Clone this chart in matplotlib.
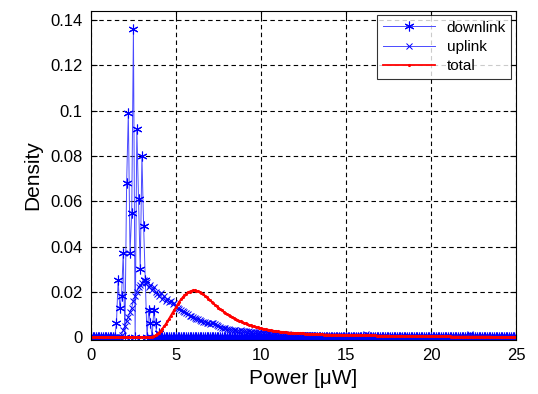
import numpy as np
import matplotlib
matplotlib.use("Agg")
import matplotlib.pyplot as plt

plt.rcParams['font.family'] = ['Liberation Sans', 'DejaVu Sans']

# power grid, 0.1 uW steps from 0 to 25
power = np.round(np.arange(0, 25.01, 0.1), 1)

downlink = [
    0, 0, 0, 0, 0, 0, 0, 0, 0, 0,
    0, 0, 0, 0, 0, 0.006, 0.025, 0.013, 0.018, 0.037,
    0, 0.068, 0.099, 0.037, 0.055, 0.136, 0, 0.092, 0.061, 0.030,
    0.080, 0.049, 0.025, 0, 0.012, 0.006, 0, 0.012, 0.006, 0,
    0.002, 0, 0, 0, 0, 0, 0, 0, 0, 0,
    0, 0, 0, 0, 0, 0, 0, 0, 0, 0,
    0, 0, 0, 0, 0, 0, 0, 0, 0, 0,
    0, 0, 0, 0, 0, 0, 0, 0, 0, 0,
    0, 0, 0, 0, 0, 0, 0, 0, 0, 0,
    0, 0, 0, 0, 0, 0, 0, 0, 0, 0,
    0, 0, 0, 0, 0, 0, 0, 0, 0, 0,
    0, 0, 0, 0, 0, 0, 0, 0, 0, 0,
    0, 0, 0, 0, 0, 0, 0, 0, 0, 0,
    0, 0, 0, 0, 0, 0, 0, 0, 0, 0,
    0, 0, 0, 0, 0, 0, 0, 0, 0, 0,
    0, 0, 0, 0, 0, 0, 0, 0, 0, 0,
    0, 0, 0, 0, 0, 0, 0, 0, 0, 0,
    0, 0, 0, 0, 0, 0, 0, 0, 0, 0,
    0, 0, 0, 0, 0, 0, 0, 0, 0, 0,
    0, 0, 0, 0, 0, 0, 0, 0, 0, 0,
    0, 0, 0, 0, 0, 0, 0, 0, 0, 0,
    0, 0, 0, 0, 0, 0, 0, 0, 0, 0,
    0, 0, 0, 0, 0, 0, 0, 0, 0, 0,
    0, 0, 0, 0, 0, 0, 0, 0, 0, 0,
    0, 0, 0, 0, 0, 0, 0, 0, 0, 0,
    0,
]

uplink = [
    0, 0, 0, 0, 0, 0, 0, 0, 0, 0,
    0, 0, 0, 0, 0, 0, 0, 0, 0.001, 0.003,
    0.005, 0.007, 0.009, 0.011, 0.013, 0.016, 0.018, 0.020, 0.022, 0.023,
    0.024, 0.025, 0.024, 0.0245, 0.022, 0.023, 0.021, 0.022, 0.020, 0.019,
    0.018, 0.0195, 0.017, 0.018, 0.016, 0.017, 0.0155, 0.016, 0.0145, 0.015,
    0.0135, 0.0130, 0.0125, 0.0120, 0.0115, 0.0112, 0.0105, 0.0100, 0.0095, 0.0092,
    0.0088, 0.0085, 0.0080, 0.0078, 0.0074, 0.0072, 0.0068, 0.0066, 0.0062, 0.0060,
    0.0058, 0.0060, 0.0063, 0.0058, 0.0052, 0.0048, 0.0045, 0.0042, 0.0040, 0.0038,
    0.0036, 0.0035, 0.0033, 0.0032, 0.0031, 0.0030, 0.0029, 0.0028, 0.0030, 0.0027,
    0.0026, 0.0025, 0.0024, 0.0025, 0.0023, 0.0022, 0.0024, 0.0021, 0.0020, 0.0021,
    0.0019, 0.0018, 0.0019, 0.0017, 0.0016, 0.0017, 0.0015, 0.0016, 0.0014, 0.0015,
    0.0013, 0.0014, 0.0012, 0.0013, 0.0012, 0.0011, 0.0012, 0.0010, 0.0011, 0.0010,
    0.0009, 0.0010, 0.0009, 0.0008, 0.0009, 0.0008, 0.0007, 0.0008, 0.0007, 0.0008,
    0.0006, 0.0007, 0.0006, 0.0007, 0.0005, 0.0006, 0.0005, 0.0006, 0.0005, 0.0004,
    0.0005, 0.0004, 0.0005, 0.0004, 0.0003, 0.0004, 0.0004, 0.0003, 0.0004, 0.0003,
    0.0004, 0.0003, 0.0003, 0.0004, 0.0002, 0.0003, 0.0004, 0.0003, 0.0002, 0.0003,
    0.0003, 0.0002, 0.0012, 0.0003, 0.0002, 0.0003, 0.0002, 0.0003, 0.0002, 0.0002,
    0.0003, 0.0002, 0.0002, 0.0003, 0.0002, 0.0001, 0.0002, 0.0003, 0.0002, 0.0001,
    0.0002, 0.0002, 0.0001, 0.0002, 0.0003, 0.0002, 0.0001, 0.0002, 0.0002, 0.0001,
    0.0002, 0.0001, 0.0002, 0.0002, 0.0001, 0.0002, 0.0001, 0.0001, 0.0002, 0.0001,
    0.0001, 0.0002, 0.0001, 0.0001, 0.0002, 0.0001, 0.0002, 0.0001, 0.0001, 0.0002,
    0.0001, 0.0001, 0.0002, 0.0001, 0.0001, 0.0001, 0.0002, 0.0001, 0.0001, 0.0001,
    0.0001, 0.0002, 0.0001, 0.0012, 0.0001, 0.0001, 0.0002, 0.0001, 0.0001, 0.0001,
    0.0001, 0.0001, 0.0001, 0.0002, 0.0001, 0.0001, 0.0001, 0.0001, 0.0001, 0.0002,
    0.0001, 0.0001, 0.0001, 0.0001, 0.0001, 0.0001, 0.0001, 0.0001, 0.0001, 0.0001,
    0.0001,
]

total = [
    0, 0, 0, 0, 0, 0, 0, 0, 0, 0,
    0, 0, 0, 0, 0, 0, 0, 0, 0, 0,
    0, 0, 0, 0, 0, 0, 0, 0, 0, 0,
    0, 0, 0, 0, 0, 0, 0.0002, 0.0004, 0.0008, 0.0013,
    0.0020, 0.0028, 0.0037, 0.0047, 0.0058, 0.0070, 0.0082, 0.0095, 0.0108, 0.0120,
    0.0132, 0.0145, 0.0157, 0.0167, 0.0176, 0.0184, 0.0191, 0.0197, 0.0201, 0.0204,
    0.0206, 0.0206, 0.0205, 0.0202, 0.0199, 0.0194, 0.0189, 0.0183, 0.0177, 0.0170,
    0.0163, 0.0156, 0.0149, 0.0142, 0.0136, 0.0130, 0.0124, 0.0118, 0.0112, 0.0107,
    0.0102, 0.0097, 0.0093, 0.0089, 0.0085, 0.0081, 0.0077, 0.0073, 0.0069, 0.0066,
    0.0063, 0.0060, 0.0057, 0.0054, 0.0052, 0.0050, 0.0047, 0.0045, 0.0043, 0.0041,
    0.0039, 0.0037, 0.0036, 0.0034, 0.0033, 0.0031, 0.0030, 0.0029, 0.0027, 0.0026,
    0.0025, 0.0024, 0.0023, 0.0023, 0.0022, 0.0021, 0.0020, 0.0020, 0.0019, 0.0019,
    0.0018, 0.0018, 0.0017, 0.0017, 0.0016, 0.0016, 0.0015, 0.0015, 0.0015, 0.0014,
    0.0014, 0.0013, 0.0013, 0.0013, 0.0012, 0.0012, 0.0012, 0.0011, 0.0011, 0.0011,
    0.0011, 0.0010, 0.0010, 0.0010, 0.0010, 0.0010, 0.0010, 0.0010, 0.0009, 0.0009,
    0.0009, 0.0009, 0.0009, 0.0009, 0.0008, 0.0008, 0.0008, 0.0008, 0.0008, 0.0008,
    0.0008, 0.0007, 0.0007, 0.0007, 0.0007, 0.0007, 0.0007, 0.0007, 0.0006, 0.0006,
    0.0006, 0.0006, 0.0006, 0.0006, 0.0006, 0.0006, 0.0005, 0.0005, 0.0005, 0.0005,
    0.0005, 0.0005, 0.0005, 0.0005, 0.0005, 0.0004, 0.0004, 0.0004, 0.0004, 0.0004,
    0.0004, 0.0004, 0.0004, 0.0004, 0.0004, 0.0004, 0.0003, 0.0003, 0.0003, 0.0003,
    0.0003, 0.0003, 0.0003, 0.0003, 0.0003, 0.0003, 0.0003, 0.0003, 0.0003, 0.0003,
    0.0003, 0.0003, 0.0002, 0.0002, 0.0002, 0.0002, 0.0002, 0.0002, 0.0002, 0.0002,
    0.0002, 0.0002, 0.0002, 0.0002, 0.0002, 0.0002, 0.0002, 0.0002, 0.0002, 0.0002,
    0.0002, 0.0002, 0.0002, 0.0002, 0.0002, 0.0002, 0.0001, 0.0001, 0.0001, 0.0001,
    0.0001, 0.0001, 0.0001, 0.0001, 0.0001, 0.0001, 0.0001, 0.0001, 0.0001, 0.0001,
    0.0001,
]

xticks = [0, 5, 10, 15, 20, 25]
yticks = [0, 0.02, 0.04, 0.06, 0.08, 0.1, 0.12, 0.14]
ytick_labels = ['0', '0.02', '0.04', '0.06', '0.08', '0.1', '0.12', '0.14']

fig = plt.figure(figsize=(5.38, 3.94), dpi=100)
ax = fig.add_axes([0.169, 0.137, 0.79, 0.836])

# matlab style asterisk: 6 arm star made of lines
asterisk = (6, 2, 0)
ax.plot(power, downlink, color='#4a4aff', lw=0.7, marker=asterisk, ms=7,
        mew=0.8, mec='#0000ff', label='downlink')
ax.plot(power, uplink, color='#4a4aff', lw=0.7, marker='x', ms=4.5,
        mew=0.7, mec='#0000ff', label='uplink')
ax.plot(power, total, color='#ff0000', lw=1.3, marker='.', ms=2.5,
        label='total')

ax.set_xlim(0, 25)
ax.set_ylim(-0.0013, 0.1442)
ax.set_xticks(xticks)
ax.set_yticks(yticks)
ax.set_yticklabels(ytick_labels)
ax.tick_params(labelsize=12, direction='in', length=4, top=True, right=True,
               pad=6)
ax.grid(True, color='black', linestyle=(0, (4, 3)), linewidth=0.8)
ax.set_axisbelow(True)

ax.set_xlabel('Power [\u03bcW]', fontsize=15, labelpad=4)
ax.set_ylabel('Density', fontsize=15, labelpad=6)

leg = ax.legend(loc='upper right', fontsize=11, frameon=True, fancybox=False,
                edgecolor='black', borderaxespad=0.3, handlelength=3.4,
                labelspacing=0.35, borderpad=0.35)
leg.get_frame().set_linewidth(0.8)

fig.savefig('out.png', dpi=100)
